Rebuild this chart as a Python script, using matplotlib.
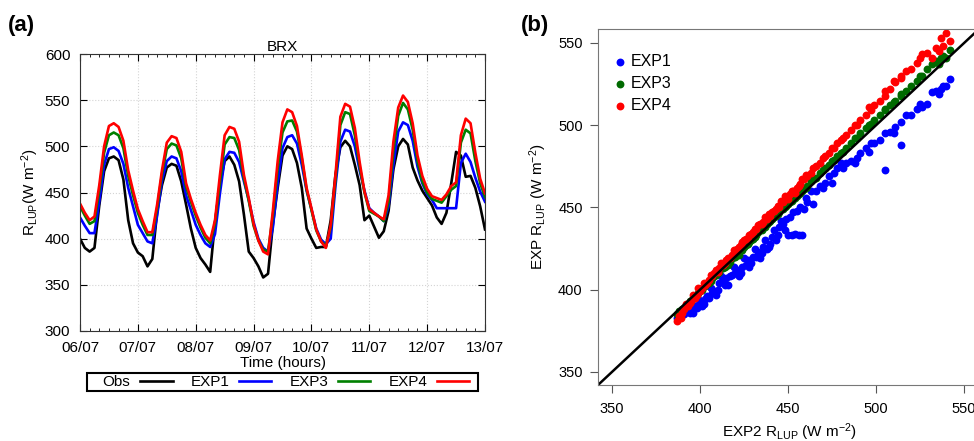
# brx_rlup.py

import numpy as np
import matplotlib
matplotlib.use("Agg")
import matplotlib.pyplot as plt
from matplotlib.patches import Rectangle
from matplotlib.ticker import MultipleLocator

# ------------------ CONFIGURACION ------------------
plt.rcParams["font.family"] = ["Liberation Sans", "DejaVu Sans"]
plt.rcParams["mathtext.fontset"] = "custom"
plt.rcParams["mathtext.rm"] = "Liberation Sans"
plt.rcParams["mathtext.it"] = "Liberation Sans:italic"
plt.rcParams["mathtext.bf"] = "Liberation Sans:bold"

COLORES = {"Obs": "black", "EXP1": "#0000ff", "EXP3": "#008000", "EXP4": "#ff0000"}

# ------------------ DATOS (a): BRX cada 2 horas desde 06/07 00h ------------------
horas = np.arange(0, 169, 2)
dias = ["06/07", "07/07", "08/07", "09/07", "10/07", "11/07", "12/07", "13/07"]

obs = [400, 390, 386, 390, 436, 473, 487, 489, 485, 464, 420, 395,
       385, 381, 370, 378, 429, 458, 477, 481, 479, 462, 437, 411,
       390, 379, 372, 364, 418, 458, 484, 489, 480, 462, 426, 386,
       379, 370, 358, 362, 415, 455, 490, 500, 497, 482, 455, 411,
       400, 390, 391, 391, 420, 470, 499, 506, 500, 480, 458, 420,
       425, 413, 401, 408, 430, 475, 500, 508, 502, 477, 463, 452,
       444, 436, 423, 416, 428, 460, 494, 490, 467, 468, 455, 435,
       410]

exp1 = [423, 414, 406, 406, 440, 480, 497, 499, 495, 481, 455, 435,
        415, 406, 397, 395, 425, 463, 484, 489, 487, 473, 447, 431,
        415, 404, 395, 391, 405, 448, 486, 494, 493, 483, 462, 442,
        418, 400, 390, 386, 412, 460, 498, 510, 512, 503, 480, 452,
        432, 411, 399, 394, 400, 458, 505, 518, 516, 500, 474, 452,
        433, 428, 424, 419, 435, 480, 516, 526, 523, 506, 478, 460,
        448, 442, 433, 433, 433, 433, 433, 482, 492, 483, 466, 451,
        440]

exp3 = [435, 425, 416, 419, 452, 493, 512, 515, 512, 498, 468, 447,
        428, 415, 404, 404, 433, 470, 497, 503, 501, 487, 456, 440,
        425, 412, 401, 395, 416, 460, 502, 510, 509, 496, 465, 441,
        414, 398, 388, 386, 425, 476, 515, 527, 528, 516, 487, 453,
        431, 409, 397, 392, 412, 464, 523, 537, 535, 512, 478, 450,
        430, 427, 424, 419, 440, 495, 533, 547, 540, 518, 484, 462,
        450, 443, 441, 439, 446, 453, 457, 504, 518, 514, 484, 460,
        445]

exp4 = [438, 428, 420, 424, 458, 500, 522, 525, 521, 506, 474, 452,
        432, 419, 407, 407, 437, 474, 504, 511, 509, 494, 460, 443,
        428, 415, 404, 398, 420, 468, 512, 521, 519, 505, 469, 444,
        416, 398, 386, 383, 430, 484, 526, 540, 537, 522, 490, 455,
        433, 410, 397, 390, 415, 470, 532, 546, 543, 520, 483, 451,
        432, 428, 424, 421, 447, 505, 542, 555, 548, 525, 490, 468,
        454, 446, 444, 442, 448, 457, 461, 512, 530, 525, 493, 465,
        449]

# ------------------ DATOS (b): EXP frente a EXP2 ------------------
exp2_x = [387, 388, 389, 390, 391, 393, 394, 395, 397, 398, 400, 401, 403, 404, 405,
          407, 408, 410, 411, 413, 414, 415, 417, 418, 420, 421, 423, 424, 426, 427,
          429, 430, 432, 433, 435, 436, 438, 440, 441, 443, 445, 447, 449, 451, 453,
          455, 457, 459, 461, 463, 466, 468, 471, 473, 476, 478, 481, 483, 486, 489,
          491, 494, 497, 499, 502, 505, 508, 511, 514, 517, 520, 523, 526, 529, 532,
          534, 536, 538, 540, 542, 450, 452, 454, 456, 458, 505, 514,
          392, 396, 399, 402, 406, 409, 412, 416, 419, 422, 425, 428, 431, 434, 437,
          439, 442, 444, 446, 448, 460, 464, 470, 475, 480, 488, 496, 510, 525, 537]

exp1_y = [383, 385, 384, 386, 385, 387, 386, 388, 390, 389, 392, 390, 394, 396, 395,
          398, 399, 400, 404, 405, 403, 407, 408, 409, 410, 412, 410, 414, 415, 418,
          416, 420, 420, 423, 422, 426, 425, 428, 432, 430, 438, 440, 443, 444, 447,
          448, 450, 449, 453, 460, 460, 463, 465, 469, 471, 474, 474, 477, 478, 480,
          483, 486, 489, 489, 491, 495, 496, 499, 502, 506, 506, 510, 511, 513, 520,
          521, 519, 524, 524, 528, 433, 433, 434, 433, 433, 473, 488,
          389, 386, 394, 391, 401, 397, 408, 403, 414, 408, 419, 414, 425, 419, 430,
          426, 436, 433, 442, 436, 456, 452, 462, 465, 477, 477, 484, 495, 513, 522]

exp3_y = [385, 387, 386, 388, 389, 391, 393, 393, 396, 397, 399, 400, 402, 404, 404,
          407, 408, 410, 411, 413, 414, 416, 417, 419, 420, 422, 424, 424, 427, 428,
          430, 431, 433, 435, 436, 438, 440, 442, 443, 445, 447, 449, 451, 453, 455,
          457, 459, 461, 463, 466, 468, 471, 474, 476, 479, 481, 484, 486, 489, 492,
          495, 498, 501, 503, 506, 509, 512, 515, 518, 521, 524, 527, 530, 534, 537,
          539, 537, 542, 541, 546, 452, 454, 456, 458, 460, 510, 519,
          390, 395, 398, 402, 405, 409, 413, 415, 420, 421, 426, 429, 432, 436, 438,
          441, 444, 446, 449, 450, 462, 467, 473, 478, 483, 492, 500, 514, 530, 541]

exp4_y = [381, 384, 383, 386, 388, 390, 392, 393, 395, 397, 399, 401, 403, 404, 406,
          408, 410, 411, 413, 415, 416, 418, 419, 421, 423, 425, 427, 429, 431, 431,
          434, 435, 437, 439, 440, 441, 443, 445, 447, 449, 450, 453, 455, 458, 460,
          462, 464, 467, 469, 471, 475, 477, 481, 483, 486, 489, 492, 494, 497, 500,
          503, 506, 509, 512, 515, 518, 522, 526, 530, 533, 534, 538, 543, 544, 541,
          547, 545, 548, 556, 551, 455, 460, 459, 463, 467, 521, 529,
          391, 397, 401, 404, 409, 412, 416, 419, 424, 426, 430, 433, 437, 440, 444,
          446, 448, 451, 454, 457, 470, 474, 480, 486, 491, 500, 511, 527, 541, 553]

# ------------------ FIGURA ------------------
fig = plt.figure(figsize=(9.74, 4.41), dpi=100)

# panel (a)
ax1 = fig.add_axes([80 / 974, 1 - 331 / 441, 405 / 974, 277 / 441])
lineas = []
for nombre, serie in [("Obs", obs), ("EXP1", exp1), ("EXP3", exp3), ("EXP4", exp4)]:
    l, = ax1.plot(horas / 24, serie, color=COLORES[nombre], lw=1.9, label=nombre)
    lineas.append(l)

ax1.set_xlim(0, 7)
ax1.set_ylim(300, 600)
ax1.set_xticks(range(8))
ax1.set_xticklabels(dias)
ax1.set_yticks(range(300, 601, 50))
ax1.xaxis.set_minor_locator(MultipleLocator(1 / 6))
ax1.tick_params(direction="in", top=True, right=True, length=5, labelsize=11, pad=7)
ax1.tick_params(which="minor", direction="in", top=True, length=2.5)
ax1.grid(True, color="#d4d4d4", linestyle=":", linewidth=0.8)
for s in ax1.spines.values():
    s.set_color("#333333")
ax1.set_title("BRX", fontsize=11, pad=2)
ax1.set_xlabel("Time (hours)", fontsize=11, labelpad=1)
ax1.set_ylabel(r"R$_{\mathrm{LUP}}$(W m$^{-2}$)", fontsize=11, labelpad=3)

# leyenda horizontal con su caja aparte
fig.legend(lineas, ["Obs", "EXP1", "EXP3", "EXP4"], loc="center",
           bbox_to_anchor=(286 / 974, 1 - 382 / 441), ncol=4, markerfirst=False,
           frameon=False, fontsize=11, handlelength=2.1, handletextpad=0.65,
           columnspacing=1.18, borderpad=0, borderaxespad=0)
fig.add_artist(Rectangle((87 / 974, 1 - 391 / 441), 391 / 974, 18 / 441,
                         transform=fig.transFigure, fill=False, lw=1.5, ec="black"))

fig.text(8 / 974, 1 - 25 / 441, "(a)", fontsize=16, fontweight="bold", va="center")

# panel (b)
ax2 = fig.add_axes([598 / 974, 1 - 385 / 441, 383.7 / 974, 356 / 441])
ax2.scatter(exp2_x, exp1_y, s=32, color="#0000ff", linewidths=0, label="EXP1")
ax2.scatter(exp2_x, exp3_y, s=32, color="#006a00", linewidths=0, label="EXP3")
ax2.scatter(exp2_x, exp4_y, s=32, color="#ff0000", linewidths=0, label="EXP4")
ax2.plot([342, 560], [342, 560], color="black", lw=1.8)

ax2.set_xlim(342, 560)
ax2.set_ylim(342, 558.5)
ax2.set_xticks(range(350, 551, 50))
ax2.set_yticks(range(350, 551, 50))
ax2.tick_params(axis="y", direction="out", length=5.5, pad=5.5, labelsize=10.5, color="#555555")
ax2.tick_params(axis="x", direction="out", length=5.5, pad=6.5, labelsize=10.5, color="#555555")
for s in ax2.spines.values():
    s.set_color("#777777")
ax2.set_xlabel(r"EXP2 R$_{\mathrm{LUP}}$ (W m$^{-2}$)", fontsize=11, labelpad=4)
ax2.set_ylabel(r"EXP R$_{\mathrm{LUP}}$ (W m$^{-2}$)", fontsize=11, labelpad=6.5)

ax2.legend(loc="upper left", bbox_to_anchor=(612 / 974, 1 - 54 / 441),
           bbox_transform=fig.transFigure, frameon=False, fontsize=11.5,
           handlelength=1.0, handletextpad=0.2, labelspacing=0.45,
           borderpad=0, borderaxespad=0)

fig.text(521 / 974, 1 - 25 / 441, "(b)", fontsize=16, fontweight="bold", va="center")

fig.savefig("out.png", dpi=100)
